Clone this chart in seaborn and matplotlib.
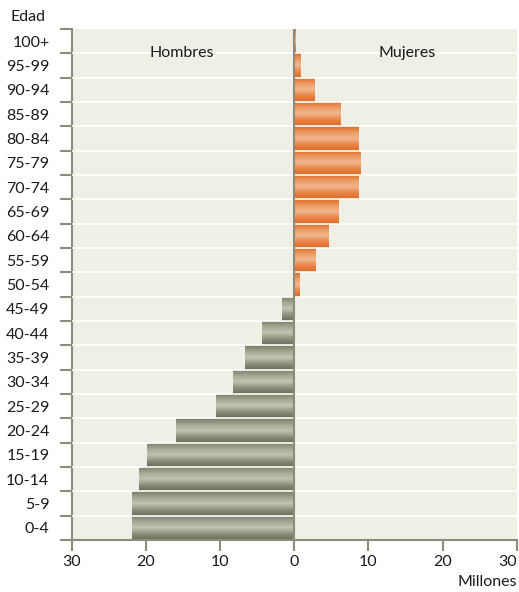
import numpy as np
import pandas as pd
import matplotlib
matplotlib.use('Agg')
import matplotlib.pyplot as plt
from matplotlib.colors import LinearSegmentedColormap
import seaborn as sns

# datos (millones), de 100+ hacia 0-4
EDADES = ['100+', '95-99', '90-94', '85-89', '80-84', '75-79', '70-74',
          '65-69', '60-64', '55-59', '50-54', '45-49', '40-44', '35-39',
          '30-34', '25-29', '20-24', '15-19', '10-14', '5-9', '0-4']
MUJERES = [0.25, 0.9, 2.7, 6.2, 8.75, 9.0, 8.65, 6.05, 4.6, 2.95, 0.8]
HOMBRES = [1.6, 4.3, 6.7, 8.2, 10.6, 15.9, 19.8, 20.9, 21.8, 21.9]
XTICKS = [-30, -20, -10, 0, 10, 20, 30]

df = pd.DataFrame({
    'edad': EDADES,
    'valor': MUJERES + [-v for v in HOMBRES],
    'sexo': ['Mujeres'] * len(MUJERES) + ['Hombres'] * len(HOMBRES),
})

sns.set_style('white')
plt.rcParams['font.family'] = ['Lato', 'DejaVu Sans']

BG = '#efefe6'
EJE = '#8c8c7a'
TXT = '#1a1a1a'
FS = 11.5

fig = plt.figure(figsize=(5.19, 5.92), dpi=100)
ax = fig.add_axes([0.138, 0.088, 0.858, 0.863])
ax.set_facecolor(BG)

sns.barplot(data=df, x='valor', y='edad', hue='sexo', order=EDADES,
            palette={'Mujeres': '#e8864a', 'Hombres': '#9a9a88'},
            dodge=False, width=1.0, legend=False, ax=ax, linewidth=0)

cmaps = {
    'Mujeres': LinearSegmentedColormap.from_list(
        'm', ['#df6a22', '#eb9a62', '#f2b88e', '#e88448', '#de6c26']),
    'Hombres': LinearSegmentedColormap.from_list(
        'h', ['#7a7a66', '#a4a492', '#c4c4b4', '#8e8e7c', '#6c6c5a']),
}
grad = np.linspace(0, 1, 64).reshape(-1, 1)
for p in list(ax.patches):
    x0, y0 = p.get_x(), p.get_y()
    w, h = p.get_width(), p.get_height()
    if w == 0 or np.isnan(w):
        continue
    sexo = 'Mujeres' if w > 0 else 'Hombres'
    im = ax.imshow(grad, cmap=cmaps[sexo], aspect='auto',
                   extent=[x0, x0 + w, y0 + h, y0], zorder=2,
                   interpolation='bilinear')
    im.set_clip_path(p)

# líneas blancas entre filas
for b in np.arange(0.5, len(EDADES) - 1, 1.0):
    ax.axhline(b, color='white', lw=1.2, zorder=3)
ax.axvline(0, color=EJE, lw=1.5, zorder=4)

ax.set_xlim(-30, 30)
ax.set_ylim(len(EDADES) - 0.5, -0.5)
ax.set_xticks(XTICKS)
ax.set_xticklabels([str(abs(t)) for t in XTICKS])
ax.get_xticklabels()[-1].set_horizontalalignment('right')
ax.get_xticklabels()[-1].set_x(30.4)
ax.set_yticks(range(len(EDADES)))
ax.set_yticklabels(EDADES)
ax.set_yticks(np.arange(-0.5, len(EDADES), 1.0), minor=True)
ax.tick_params(axis='y', which='major', length=0, pad=16, labelsize=FS,
               labelcolor=TXT)
ax.tick_params(axis='y', which='minor', length=9, width=1.5, color=EJE,
               left=True)
ax.tick_params(axis='x', length=8, width=1.5, color=EJE, labelsize=FS,
               labelcolor=TXT, bottom=True, pad=3)
ax.set_xlabel('')
ax.set_ylabel('')

for s in ['top', 'right']:
    ax.spines[s].set_visible(False)
for s in ['left', 'bottom']:
    ax.spines[s].set_color(EJE)
    ax.spines[s].set_linewidth(1.5)

ax.text(-15.1, 0.5, 'Hombres', ha='center', va='center', fontsize=FS,
        color=TXT, zorder=5)
ax.text(15.2, 0.5, 'Mujeres', ha='center', va='center', fontsize=FS,
        color=TXT, zorder=5)
fig.text(28 / 519, 1 - 17 / 592, 'Edad', ha='center', va='center',
         fontsize=FS, color=TXT)
fig.text(517 / 519, 1 - 582 / 592, 'Millones', ha='right', va='center',
         fontsize=FS, color=TXT)

fig.savefig('out.png', dpi=100, facecolor='white')
